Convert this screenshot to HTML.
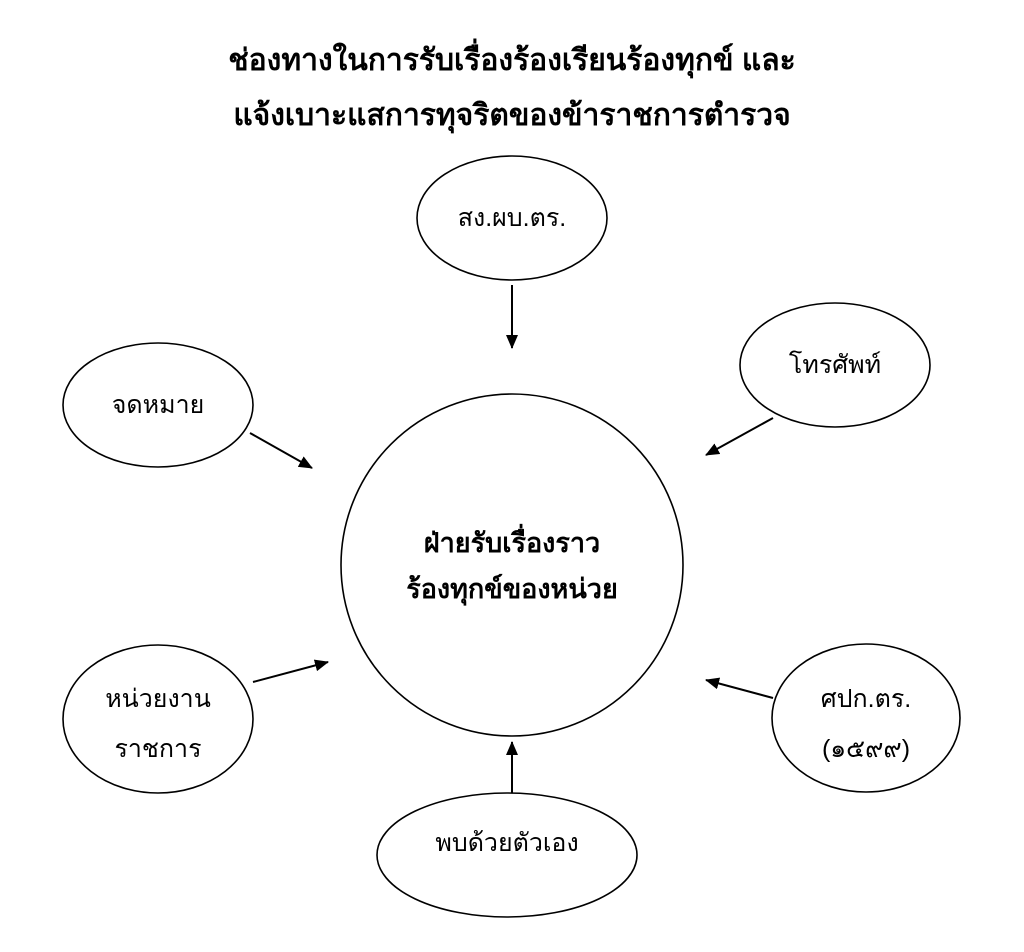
<!DOCTYPE html>
<html><head><meta charset="utf-8"><style>
html,body{margin:0;padding:0;background:#fff;}
svg{display:block;}
text{font-family:"Liberation Sans","DejaVu Sans",sans-serif;fill:#000;}
</style></head><body>
<svg width="1024" height="952" viewBox="0 0 1024 952" xmlns="http://www.w3.org/2000/svg">
<defs><marker id="a" markerWidth="14" markerHeight="12" refX="13" refY="6" orient="auto" markerUnits="userSpaceOnUse" viewBox="0 0 14 12"><path d="M0,0 L14,6 L0,12 z" fill="#000"/></marker></defs>
<text x="512" y="70" text-anchor="middle" font-size="30" font-weight="bold">ช่องทางในการรับเรื่องร้องเรียนร้องทุกข์ และ</text>
<text x="512" y="125" text-anchor="middle" font-size="30" font-weight="bold">แจ้งเบาะแสการทุจริตของข้าราชการตำรวจ</text>
<g fill="none" stroke="#000" stroke-width="1.6">
<circle cx="512" cy="565" r="171"/>
<ellipse cx="512" cy="218" rx="95" ry="62"/>
<ellipse cx="835" cy="365" rx="95" ry="62"/>
<ellipse cx="158" cy="405" rx="95" ry="62"/>
<ellipse cx="158" cy="719" rx="95" ry="74"/>
<ellipse cx="866" cy="718" rx="94" ry="74"/>
<ellipse cx="507" cy="855" rx="130" ry="62"/>
</g>
<g stroke="#000" stroke-width="2" marker-end="url(#a)">
<line x1="512" y1="285" x2="512" y2="348"/>
<line x1="773" y1="418" x2="706" y2="455"/>
<line x1="250" y1="433" x2="312" y2="468"/>
<line x1="253" y1="682" x2="328" y2="662"/>
<line x1="773" y1="698" x2="706" y2="680"/>
<line x1="512" y1="793" x2="512" y2="742"/>
</g>
<text x="512" y="226" text-anchor="middle" font-size="25">สง.ผบ.ตร.</text>
<text x="835" y="373" text-anchor="middle" font-size="25">โทรศัพท์</text>
<text x="158" y="413" text-anchor="middle" font-size="25">จดหมาย</text>
<text x="158" y="707" text-anchor="middle" font-size="25">หน่วยงาน</text>
<text x="158" y="757" text-anchor="middle" font-size="25">ราชการ</text>
<text x="866" y="707" text-anchor="middle" font-size="25">ศปก.ตร.</text>
<text x="866" y="757" text-anchor="middle" font-size="25">(๑๕๙๙)</text>
<text x="507" y="851" text-anchor="middle" font-size="25">พบด้วยตัวเอง</text>
<text x="512" y="552" text-anchor="middle" font-size="27" font-weight="bold">ฝ่ายรับเรื่องราว</text>
<text x="512" y="598" text-anchor="middle" font-size="27" font-weight="bold">ร้องทุกข์ของหน่วย</text>
</svg>
</body></html>
